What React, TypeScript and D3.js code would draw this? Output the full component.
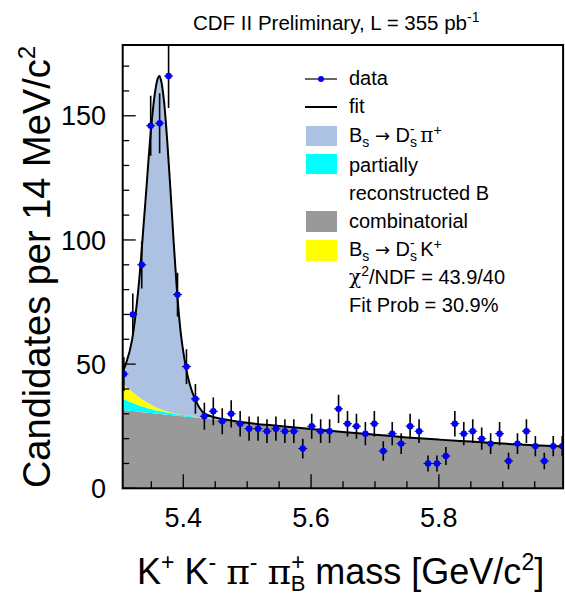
import React from "react";
import * as d3 from "d3";

// ---- data ----
const binCenters = [5.307, 5.321, 5.335, 5.349, 5.363, 5.377, 5.391, 5.405, 5.419, 5.433, 5.447, 5.461, 5.475, 5.489, 5.503, 5.517, 5.531, 5.545, 5.559, 5.573, 5.587, 5.601, 5.615, 5.629, 5.643, 5.657, 5.671, 5.685, 5.699, 5.713, 5.727, 5.741, 5.755, 5.769, 5.783, 5.797, 5.811, 5.825, 5.839, 5.853, 5.867, 5.881, 5.895, 5.909, 5.923, 5.937, 5.951, 5.965, 5.979, 5.993];
const counts = [46, 70, 90, 146, 147, 166, 78, 49, 36, 29, 31, 27, 30, 26, 24, 24, 23, 24, 23, 23, 16, 25, 23, 23, 32, 26, 25, 22, 26, 15, 22, 18, 25, 23, 10, 10, 13, 26, 22, 23, 20, 18, 22, 11, 18, 23, 17, 11, 17, 17];
const errors = [6.8, 8.4, 9.5, 12.1, 12.1, 12.9, 8.8, 7.0, 6.0, 5.4, 5.6, 5.2, 5.5, 5.1, 4.9, 4.9, 4.8, 4.9, 4.8, 4.8, 4.0, 5.0, 4.8, 4.8, 5.7, 5.1, 5.0, 4.7, 5.1, 3.9, 4.7, 4.2, 5.0, 4.8, 3.2, 3.2, 3.6, 5.1, 4.7, 4.8, 4.5, 4.2, 4.7, 3.3, 4.2, 4.8, 4.1, 3.3, 4.1, 4.1];
const binHalfWidth = 0.007;

const fitMass = [5.3052, 5.31, 5.32, 5.33, 5.34, 5.35, 5.355, 5.36, 5.3625, 5.365, 5.37, 5.375, 5.38, 5.385, 5.39, 5.395, 5.40, 5.405, 5.41, 5.42, 5.43, 5.44, 5.45, 5.47, 5.5, 5.55, 5.6, 5.65, 5.7, 5.75, 5.8, 5.85, 5.9, 5.95, 5.9944];
const fitComb = [31.6, 31.45, 31.15, 30.85, 30.55, 30.3, 30.15, 30.0, 29.95, 29.9, 29.75, 29.6, 29.5, 29.35, 29.25, 29.1, 29.0, 28.85, 28.75, 28.5, 28.2, 27.95, 27.7, 27.15, 26.3, 25.1, 23.9, 22.7, 21.6, 20.5, 19.6, 18.8, 18.0, 17.3, 16.8];
const fitPartial = [4.6, 4.1, 3.3, 2.6, 2.1, 1.6, 1.4, 1.25, 1.2, 1.1, 1.0, 0.9, 0.8, 0.7, 0.6, 0.55, 0.5, 0.45, 0.4, 0.3, 0.25, 0.2, 0.15, 0.05, 0, 0, 0, 0, 0, 0, 0, 0, 0, 0, 0];
const fitDsK = [6.1, 5.5, 4.4, 3.4, 2.5, 1.7, 1.35, 1.05, 0.9, 0.8, 0.6, 0.45, 0.3, 0.2, 0.1, 0.05, 0, 0, 0, 0, 0, 0, 0, 0, 0, 0, 0, 0, 0, 0, 0, 0, 0, 0, 0];
const fitTotal = [47, 50, 60, 81, 113, 146, 158, 165, 166, 164.5, 155.5, 139.5, 120, 99, 80, 65, 55, 47.5, 42, 35, 30.8, 29.3, 28.5, 27.5, 26.35, 25.1, 23.9, 22.7, 21.6, 20.5, 19.6, 18.8, 18.0, 17.3, 16.8];

const xMajorTicks = [5.4, 5.6, 5.8];
const xTickLabels = ["5.4", "5.6", "5.8"];
const xMinorTicks = [5.35, 5.45, 5.5, 5.55, 5.65, 5.7, 5.75, 5.85, 5.9, 5.95];
const yMajorTicks = [0, 50, 100, 150];
const yTickLabels = ["0", "50", "100", "150"];
const yMinorTicks = [10, 20, 30, 40, 60, 70, 80, 90, 110, 120, 130, 140, 160, 170];

// ---- layout ----
const W = 565;
const H = 597;
const X0 = 122.7;
const X1 = 563.1;
const Y0 = 488.3;
const Y1 = 45;
const FONT = "'Liberation Sans', Arial, Helvetica, sans-serif";
const SYM = "'DejaVu Serif', serif";

export default function App() {
  const x = d3.scaleLinear().domain([5.3052, 5.9944]).range([X0, X1]);
  const y = d3.scaleLinear().domain([0, 178.5]).range([Y0, Y1]);

  const s1 = fitComb.map((v, i) => v + fitPartial[i]);
  const s2 = s1.map((v, i) => v + fitDsK[i]);
  const zeros = fitMass.map(() => 0);

  const area = (lo: number[], hi: number[]) =>
    d3
      .area<number>()
      .x((d) => x(d))
      .y0((_, i) => y(lo[i]))
      .y1((_, i) => y(hi[i]))
      .curve(d3.curveMonotoneX)(fitMass) || "";

  const totalLine =
    d3
      .line<number>()
      .x((d) => x(d))
      .y((_, i) => y(fitTotal[i]))
      .curve(d3.curveMonotoneX)(fitMass) || "";

  const legX = 349;
  const sub = 14;

  return (
    <svg width={W} height={H} style={{ display: "block", position: "absolute", left: 0, top: 0, background: "#fff" }} fontFamily={FONT}>
      <defs>
        <clipPath id="plotclip">
          <rect x={X0} y={Y1} width={X1 - X0} height={Y0 - Y1} />
        </clipPath>
      </defs>
      <rect x={0} y={0} width={W} height={H} fill="#fff" />

      <g clipPath="url(#plotclip)">
        <path d={area(zeros, fitComb)} fill="#999999" />
        <path d={area(fitComb, s1)} fill="#00ffff" />
        <path d={area(s1, s2)} fill="#ffff00" />
        <path d={area(s2, fitTotal)} fill="#adc1e3" />
        <path d={totalLine} fill="none" stroke="#000" strokeWidth={2} />
      </g>

      {/* ticks */}
      <g stroke="#000" strokeWidth={1.3}>
        {xMajorTicks.map((t) => (
          <line key={"xM" + t} x1={x(t)} x2={x(t)} y1={Y0} y2={Y0 - 14} />
        ))}
        {xMinorTicks.map((t) => (
          <line key={"xm" + t} x1={x(t)} x2={x(t)} y1={Y0} y2={Y0 - 7} />
        ))}
        {yMajorTicks.map((t) => (
          <line key={"yM" + t} x1={X0} x2={X0 + 13} y1={y(t)} y2={y(t)} />
        ))}
        {yMinorTicks.map((t) => (
          <line key={"ym" + t} x1={X0} x2={X0 + 6.5} y1={y(t)} y2={y(t)} />
        ))}
      </g>

      {/* data points */}
      <g clipPath="url(#plotclip)">
        {binCenters.map((c, i) => (
          <g key={"p" + i}>
            <line x1={x(c)} x2={x(c)} y1={y(counts[i] - errors[i])} y2={y(counts[i] + errors[i])} stroke="#000" strokeWidth={1.6} />
            <line x1={x(c - binHalfWidth)} x2={x(c + binHalfWidth)} y1={y(counts[i])} y2={y(counts[i])} stroke="#000" strokeWidth={1} />
            <circle cx={x(c)} cy={y(counts[i])} r={3.2} fill="#0000ff" />
          </g>
        ))}
      </g>

      {/* frame */}
      <rect x={X0} y={Y1} width={X1 - X0} height={Y0 - Y1} fill="none" stroke="#000" strokeWidth={2} />

      {/* tick labels */}
      <g fontSize={27} fill="#000">
        {xMajorTicks.map((t, i) => (
          <text key={"xl" + t} x={x(t)} y={527} textAnchor="middle">
            {xTickLabels[i]}
          </text>
        ))}
        {yMajorTicks.map((t, i) => (
          <text key={"yl" + t} x={106} y={y(t)} dy="0.36em" textAnchor="end">
            {yTickLabels[i]}
          </text>
        ))}
      </g>

      {/* title */}
      <text x={193} y={30} fontSize={20.5} style={{ whiteSpace: "pre" }}>
        CDF II Preliminary, L = 355 pb
        <tspan dy={-8} fontSize={14}>-1</tspan>
      </text>

      {/* axis titles */}
      <text x={137} y={584} fontSize={36} style={{ whiteSpace: "pre" }}>
        <tspan>K</tspan>
        <tspan dy={-14} fontSize={23}>+</tspan>
        <tspan dy={14}>{" K"}</tspan>
        <tspan dy={-14} fontSize={23}>-</tspan>
        <tspan dy={14}>{" "}</tspan>
        <tspan fontFamily={SYM}>π</tspan>
        <tspan dy={-14} fontSize={23}>-</tspan>
        <tspan dy={14}>{" "}</tspan>
        <tspan fontFamily={SYM}>π</tspan>
        <tspan dy={-14} fontSize={23}>+</tspan>
        <tspan dx={-14} dy={21} fontSize={22}>B</tspan>
        <tspan dy={-7}>{" mass [GeV/c"}</tspan>
        <tspan dy={-14} fontSize={23}>2</tspan>
        <tspan dy={14}>]</tspan>
      </text>
      <text transform="translate(50,267) rotate(-90)" textAnchor="middle" fontSize={38} style={{ whiteSpace: "pre" }}>
        {"Candidates per 14 MeV/c"}
        <tspan dy={-15} fontSize={24}>2</tspan>
      </text>

      {/* legend */}
      <g fontSize={20} style={{ whiteSpace: "pre" }}>
        <line x1={305} x2={337} y1={79} y2={79} stroke="#000" strokeWidth={1.2} />
        <circle cx={321} cy={79} r={3} fill="#0000ff" />
        <text x={legX} y={85}>data</text>

        <line x1={305} x2={337} y1={107} y2={107} stroke="#000" strokeWidth={2} />
        <text x={legX} y={113}>fit</text>

        <rect x={306} y={126} width={31} height={20} fill="#adc1e3" />
        <text x={legX} y={142}>
          <tspan>B</tspan>
          <tspan dy={5} fontSize={sub}>s</tspan>
          <tspan dy={-5}>{" "}</tspan>
          <tspan fontFamily="'DejaVu Sans', sans-serif" fontSize={18}>→</tspan>
          <tspan>{" D"}</tspan>
          <tspan dy={5} fontSize={sub}>s</tspan>
          <tspan dx={-7} dy={-13} fontSize={sub}>-</tspan>
          <tspan dy={8}>{" "}</tspan>
          <tspan fontFamily={SYM}>π</tspan>
          <tspan dy={-7} fontSize={sub}>+</tspan>
        </text>

        <rect x={306} y={154} width={31} height={20} fill="#00ffff" />
        <text x={legX} y={172}>partially</text>
        <text x={legX} y={200}>reconstructed B</text>

        <rect x={306} y={211} width={31} height={21} fill="#999999" />
        <text x={legX} y={228}>combinatorial</text>

        <rect x={306} y={240} width={31} height={21} fill="#ffff00" />
        <text x={legX} y={256}>
          <tspan>B</tspan>
          <tspan dy={5} fontSize={sub}>s</tspan>
          <tspan dy={-5}>{" "}</tspan>
          <tspan fontFamily="'DejaVu Sans', sans-serif" fontSize={18}>→</tspan>
          <tspan>{" D"}</tspan>
          <tspan dy={5} fontSize={sub}>s</tspan>
          <tspan dx={-7} dy={-13} fontSize={sub}>-</tspan>
          <tspan dy={8}>{" K"}</tspan>
          <tspan dy={-7} fontSize={sub}>+</tspan>
        </text>

        <text x={legX} y={284}>
          <tspan fontFamily={SYM}>χ</tspan>
          <tspan dy={-8} fontSize={sub}>2</tspan>
          <tspan dy={8}>/NDF = 43.9/40</tspan>
        </text>
        <text x={legX} y={312}>Fit Prob = 30.9%</text>
      </g>
    </svg>
  );
}
